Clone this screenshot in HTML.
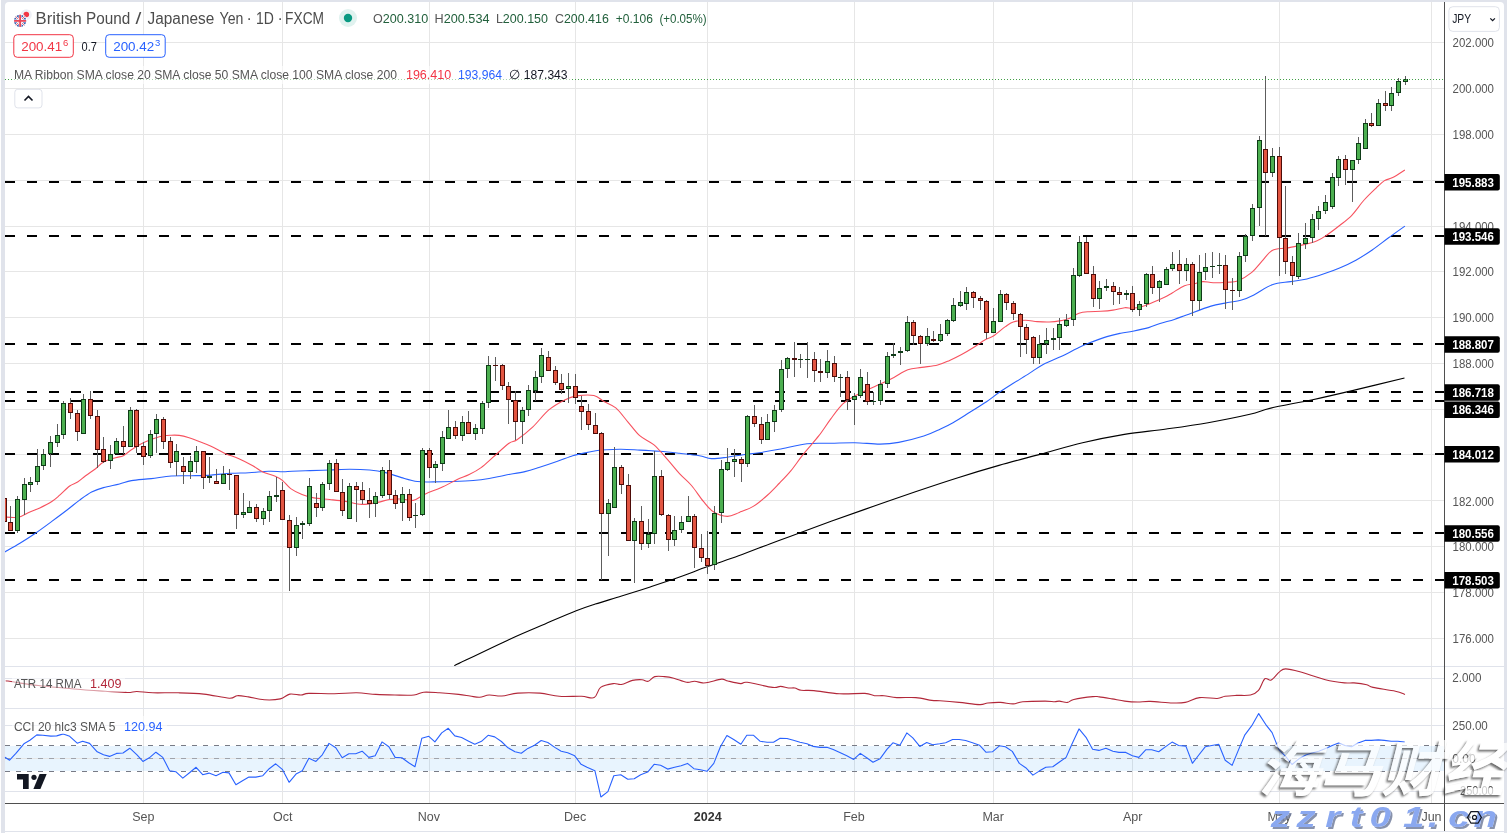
<!DOCTYPE html>
<html><head><meta charset="utf-8"><title>GBP/JPY Chart</title>
<style>html,body{margin:0;padding:0;background:#fff;width:1507px;height:833px;overflow:hidden}svg{display:block}</style>
</head><body>
<svg width="1507" height="833" viewBox="0 0 1507 833" shape-rendering="auto"><rect x="0" y="0" width="1507" height="833" fill="#ffffff"/>
<rect x="1" y="0" width="4" height="833" fill="#e0e3eb"/>
<rect x="1" y="0" width="1506" height="2" fill="#e0e3eb"/>
<rect x="1504" y="0" width="3" height="833" fill="#e0e3eb"/>
<rect x="5" y="831" width="1499" height="1" fill="#e0e3eb"/>
<path d="M5,2 h4 a4,4 0 0 0 -4,4 z" fill="#e0e3eb"/>
<path d="M1504,2 h-4 a4,4 0 0 1 4,4 z" fill="#e0e3eb"/>
<rect x="5" y="42" width="1439" height="1" fill="#e6e6e6"/>
<rect x="5" y="88" width="1439" height="1" fill="#e6e6e6"/>
<rect x="5" y="134" width="1439" height="1" fill="#e6e6e6"/>
<rect x="5" y="180" width="1439" height="1" fill="#e6e6e6"/>
<rect x="5" y="226" width="1439" height="1" fill="#e6e6e6"/>
<rect x="5" y="271" width="1439" height="1" fill="#e6e6e6"/>
<rect x="5" y="317" width="1439" height="1" fill="#e6e6e6"/>
<rect x="5" y="363" width="1439" height="1" fill="#e6e6e6"/>
<rect x="5" y="409" width="1439" height="1" fill="#e6e6e6"/>
<rect x="5" y="454" width="1439" height="1" fill="#e6e6e6"/>
<rect x="5" y="500" width="1439" height="1" fill="#e6e6e6"/>
<rect x="5" y="546" width="1439" height="1" fill="#e6e6e6"/>
<rect x="5" y="592" width="1439" height="1" fill="#e6e6e6"/>
<rect x="5" y="638" width="1439" height="1" fill="#e6e6e6"/>
<rect x="5" y="678" width="1439" height="1" fill="#e0e3eb"/>
<rect x="5" y="725" width="1439" height="1" fill="#e0e3eb"/>
<rect x="5" y="791" width="1439" height="1" fill="#e0e3eb"/>
<rect x="143" y="2" width="1" height="801" fill="#e6e6e6"/>
<rect x="282" y="2" width="1" height="801" fill="#e6e6e6"/>
<rect x="429" y="2" width="1" height="801" fill="#e6e6e6"/>
<rect x="575" y="2" width="1" height="801" fill="#e6e6e6"/>
<rect x="707" y="2" width="1" height="801" fill="#e6e6e6"/>
<rect x="854" y="2" width="1" height="801" fill="#e6e6e6"/>
<rect x="993" y="2" width="1" height="801" fill="#e6e6e6"/>
<rect x="1132" y="2" width="1" height="801" fill="#e6e6e6"/>
<rect x="1279" y="2" width="1" height="801" fill="#e6e6e6"/>
<rect x="1431" y="2" width="1" height="801" fill="#e6e6e6"/>
<rect x="5" y="666" width="1499" height="1" fill="#e0e3eb"/>
<rect x="5" y="708" width="1499" height="1" fill="#e0e3eb"/>
<rect x="5" y="746" width="1439" height="25" fill="#2196f3" fill-opacity="0.1"/>
<rect x="5" y="758" width="1439" height="1" fill="#e6e6e6"/>
<line x1="5" y1="745.5" x2="1444" y2="745.5" stroke="#787b86" stroke-width="1" stroke-dasharray="5 6"/>
<line x1="5" y1="758.5" x2="1444" y2="758.5" stroke="#a0a3ab" stroke-width="1" stroke-dasharray="5 6"/>
<line x1="5" y1="771.5" x2="1444" y2="771.5" stroke="#787b86" stroke-width="1" stroke-dasharray="5 6"/>
<line x1="5" y1="182" x2="1444" y2="182" stroke="#000" stroke-width="2" stroke-dasharray="10 12"/>
<line x1="5" y1="236" x2="1444" y2="236" stroke="#000" stroke-width="2" stroke-dasharray="10 12"/>
<line x1="5" y1="344" x2="1444" y2="344" stroke="#000" stroke-width="2" stroke-dasharray="10 12"/>
<line x1="5" y1="392" x2="1444" y2="392" stroke="#000" stroke-width="2" stroke-dasharray="10 12"/>
<line x1="5" y1="401" x2="1444" y2="401" stroke="#000" stroke-width="2" stroke-dasharray="10 12"/>
<line x1="5" y1="454" x2="1444" y2="454" stroke="#000" stroke-width="2" stroke-dasharray="10 12"/>
<line x1="5" y1="533" x2="1444" y2="533" stroke="#000" stroke-width="2" stroke-dasharray="10 12"/>
<line x1="5" y1="580" x2="1444" y2="580" stroke="#000" stroke-width="2" stroke-dasharray="10 12"/>
<clipPath id="cm"><rect x="5" y="2" width="1439" height="664"/></clipPath>
<g clip-path="url(#cm)" fill="none" stroke-linejoin="round">
<path d="M454.3,665.7 C463.47,661.32 494.17,646.37 509.3,639.4 C524.43,632.43 533.95,628.67 545.1,623.9 C556.25,619.13 567.83,614.1 576.2,610.8 C584.57,607.5 587.73,606.57 595.3,604.1 C602.87,601.63 612.45,598.87 621.6,596 C630.75,593.13 640.65,590.02 650.2,586.9 C659.75,583.78 669.33,580.68 678.9,577.3 C688.47,573.92 697.65,570.18 707.6,566.6 C717.55,563.02 728.25,559.58 738.6,555.8 C748.95,552.02 761.13,547.13 769.7,543.9 C778.27,540.67 779.65,540.22 790,536.4 C800.35,532.58 817.87,526.02 831.8,521 C845.73,515.98 859.67,511.18 873.6,506.3 C887.53,501.42 901.47,496.43 915.4,491.7 C929.33,486.97 943.27,482.28 957.2,477.9 C971.13,473.52 985.07,469.37 999,465.4 C1012.93,461.43 1026.87,457.87 1040.8,454.1 C1054.73,450.33 1068.67,446.08 1082.6,442.8 C1096.53,439.52 1110.45,436.7 1124.4,434.4 C1138.35,432.1 1152.35,430.95 1166.3,429 C1180.25,427.05 1194.17,425.15 1208.1,422.7 C1222.03,420.25 1239.45,416.73 1249.9,414.3 C1260.35,411.87 1260.35,410.53 1270.8,408.1 C1281.25,405.67 1298.67,402.7 1312.6,399.7 C1326.53,396.7 1339.08,393.72 1354.4,390.1 C1369.72,386.48 1396.15,380.02 1404.5,378" stroke="#000000" stroke-width="1.1"/>
<path d="M5,551.9 C7.48,550.47 14.77,546.45 19.9,543.3 C25.03,540.15 30.48,536.65 35.8,533 C41.12,529.35 46.48,525.32 51.8,521.4 C57.12,517.48 63.07,513.05 67.7,509.5 C72.33,505.95 75.62,503.02 79.6,500.1 C83.58,497.18 87.62,494.08 91.6,492 C95.58,489.92 98.85,488.93 103.5,487.6 C108.15,486.27 114.85,485.17 119.5,484 C124.15,482.83 126.1,481.5 131.4,480.6 C136.7,479.7 144.67,479.37 151.3,478.6 C157.93,477.83 164.57,476.48 171.2,476 C177.83,475.52 184.47,475.85 191.1,475.7 C197.73,475.55 204.37,475.5 211,475.1 C217.63,474.7 224.58,473.7 230.9,473.3 C237.22,472.9 242.58,473.03 248.9,472.7 C255.22,472.37 263.17,471.47 268.8,471.3 C274.43,471.13 278.83,471.7 282.7,471.7 C286.57,471.7 287.47,471.48 292,471.3 C296.53,471.12 303.6,470.82 309.9,470.6 C316.2,470.38 323.17,470.23 329.8,470 C336.43,469.77 343.07,469.2 349.7,469.2 C356.33,469.2 363.62,469.43 369.6,470 C375.58,470.57 380.28,471.33 385.6,472.6 C390.92,473.87 396.2,476.12 401.5,477.6 C406.8,479.08 412.1,480.78 417.4,481.5 C422.7,482.22 427.33,481.9 433.3,481.9 C439.27,481.9 446.55,481.73 453.2,481.5 C459.85,481.27 467.22,481 473.2,480.5 C479.18,480 483.8,479.38 489.1,478.5 C494.4,477.62 499.03,476.35 505,475.2 C510.97,474.05 519.25,472.87 524.9,471.6 C530.55,470.33 533.58,469.27 538.9,467.6 C544.22,465.93 551.17,463.58 556.8,461.6 C562.43,459.62 568.83,456.95 572.7,455.7 C576.57,454.45 576.13,454.93 580,454.1 C583.87,453.27 589.27,451.5 595.9,450.7 C602.53,449.9 612.5,449.4 619.8,449.3 C627.1,449.2 633.07,449.77 639.7,450.1 C646.33,450.43 652.97,450.77 659.6,451.3 C666.23,451.83 672.87,452.57 679.5,453.3 C686.13,454.03 694.08,454.82 699.4,455.7 C704.72,456.58 706.75,458.35 711.4,458.6 C716.05,458.85 721.98,457.85 727.3,457.2 C732.62,456.55 737.98,455.45 743.3,454.7 C748.62,453.95 753.23,453.6 759.2,452.7 C765.17,451.8 771.13,450.8 779.1,449.3 C787.07,447.8 798.38,444.7 807,443.7 C815.62,442.7 822.85,443.47 830.8,443.3 C838.75,443.13 846.5,442.57 854.7,442.7 C862.9,442.83 872.67,444.15 880,444.1 C887.33,444.05 891.4,443.73 898.7,442.4 C906,441.07 916.83,438.33 923.8,436.1 C930.77,433.87 935.63,431.23 940.5,429 C945.37,426.77 948.12,425.48 953,422.7 C957.88,419.92 964.22,415.78 969.8,412.3 C975.38,408.82 981.57,405.13 986.5,401.8 C991.43,398.47 994.93,395.38 999.4,392.3 C1003.87,389.22 1008.32,386.45 1013.3,383.3 C1018.28,380.15 1024.32,376.55 1029.3,373.4 C1034.28,370.25 1037.9,367.22 1043.2,364.4 C1048.5,361.58 1055.47,359.15 1061.1,356.5 C1066.73,353.85 1072.35,350.73 1077,348.5 C1081.65,346.27 1084.02,345.08 1089,343.1 C1093.98,341.12 1101.6,338.25 1106.9,336.6 C1112.2,334.95 1116.48,334.1 1120.8,333.2 C1125.12,332.3 1128.15,332.13 1132.8,331.2 C1137.45,330.27 1144.17,328.88 1148.7,327.6 C1153.23,326.32 1155.73,324.87 1160,323.5 C1164.27,322.13 1169.88,320.83 1174.3,319.4 C1178.72,317.97 1180.38,317.12 1186.5,314.9 C1192.62,312.68 1204.53,308.07 1211,306.1 C1217.47,304.13 1220.2,304.12 1225.3,303.1 C1230.4,302.08 1236.83,301.37 1241.6,300 C1246.37,298.63 1248.8,297.45 1253.9,294.9 C1259,292.35 1266.08,286.92 1272.2,284.7 C1278.32,282.48 1284.82,282.55 1290.6,281.6 C1296.38,280.65 1301.45,280.25 1306.9,279 C1312.35,277.75 1317.85,275.93 1323.3,274.1 C1328.75,272.27 1334.17,270.32 1339.6,268 C1345.03,265.68 1350.47,263.2 1355.9,260.2 C1361.33,257.2 1366.75,253.73 1372.2,250 C1377.65,246.27 1383.15,241.78 1388.6,237.8 C1394.05,233.82 1402.18,228.05 1404.9,226.1" stroke="#2962ff" stroke-width="1.1"/>
<path d="M5,517 C6.48,517.08 11.25,517.58 13.9,517.5 C16.55,517.42 18.23,517.43 20.9,516.5 C23.57,515.57 26.75,513.33 29.9,511.9 C33.05,510.47 36.15,509.63 39.8,507.9 C43.45,506.17 48.48,503.62 51.8,501.5 C55.12,499.38 56.72,497.78 59.7,495.2 C62.68,492.62 66.72,488.2 69.7,486 C72.68,483.8 74.95,483.72 77.6,482 C80.25,480.28 82.6,477.92 85.6,475.7 C88.6,473.48 92.62,470.97 95.6,468.7 C98.58,466.43 100.18,463.93 103.5,462.1 C106.82,460.27 112.18,458.77 115.5,457.7 C118.82,456.63 120.75,457.02 123.4,455.7 C126.05,454.38 128.08,451.95 131.4,449.8 C134.72,447.65 138.65,444.97 143.3,442.8 C147.95,440.63 154.65,438.07 159.3,436.8 C163.95,435.53 167.88,435.43 171.2,435.2 C174.52,434.97 176.22,434.97 179.2,435.4 C182.18,435.83 185.78,436.8 189.1,437.8 C192.42,438.8 195.45,440 199.1,441.4 C202.75,442.8 206.68,444.2 211,446.2 C215.32,448.2 220.35,451.32 225,453.4 C229.65,455.48 234.27,456.65 238.9,458.7 C243.53,460.75 248.82,463.47 252.8,465.7 C256.78,467.93 259.15,470.38 262.8,472.1 C266.45,473.82 271.38,474.58 274.7,476 C278.02,477.42 280.03,478.5 282.7,480.6 C285.37,482.7 287.48,486.28 290.7,488.6 C293.92,490.92 298.13,492.95 302,494.5 C305.87,496.05 309.27,497.07 313.9,497.9 C318.53,498.73 324.5,498.92 329.8,499.5 C335.1,500.08 340.38,500.58 345.7,501.4 C351.02,502.22 356.38,504.23 361.7,504.4 C367.02,504.57 372.97,503.22 377.6,502.4 C382.23,501.58 385.52,500.07 389.5,499.5 C393.48,498.93 397.52,498.85 401.5,499 C405.48,499.15 409.42,501.25 413.4,500.4 C417.38,499.55 420.75,496.05 425.4,493.9 C430.05,491.75 436,489.9 441.3,487.5 C446.6,485.1 452.55,481.65 457.2,479.5 C461.85,477.35 465.22,476.58 469.2,474.6 C473.18,472.62 477.12,470.5 481.1,467.6 C485.08,464.7 488.45,461.25 493.1,457.2 C497.75,453.15 505.02,446.22 509,443.3 C512.98,440.38 513.02,442.45 517,439.7 C520.98,436.95 527.6,431.77 532.9,426.8 C538.2,421.83 543.5,414.38 548.8,409.9 C554.1,405.42 560.05,402.23 564.7,399.9 C569.35,397.57 571.83,396.63 576.7,395.9 C581.57,395.17 589.37,394.57 593.9,395.5 C598.43,396.43 600.25,399.43 603.9,401.5 C607.55,403.57 611.82,404.52 615.8,407.9 C619.78,411.28 623.82,417.17 627.8,421.8 C631.78,426.43 635.38,431.88 639.7,435.7 C644.02,439.52 649.05,440.72 653.7,444.7 C658.35,448.68 663.3,454.78 667.6,459.6 C671.9,464.42 675.52,469.28 679.5,473.6 C683.48,477.92 687.52,480.87 691.5,485.5 C695.48,490.13 699.75,497.02 703.4,501.4 C707.05,505.78 709.42,509.3 713.4,511.8 C717.38,514.3 722.98,516.3 727.3,516.4 C731.62,516.5 734.98,514.07 739.3,512.4 C743.62,510.73 748.57,509.22 753.2,506.4 C757.83,503.58 762.78,499.32 767.1,495.5 C771.42,491.68 775.12,487.65 779.1,483.5 C783.08,479.35 787.02,475.4 791,470.6 C794.98,465.8 798.35,460.52 803,454.7 C807.65,448.88 814.27,441.68 818.9,435.7 C823.53,429.72 826.82,424.1 830.8,418.8 C834.78,413.5 838.82,407.72 842.8,403.9 C846.78,400.08 850.72,398.22 854.7,395.9 C858.68,393.58 862.17,392.1 866.7,390 C871.23,387.9 877.37,385.4 881.9,383.3 C886.43,381.2 889.58,379.65 893.9,377.4 C898.22,375.15 903.15,371.47 907.8,369.8 C912.45,368.13 916.82,368.2 921.8,367.4 C926.78,366.6 933.07,366.17 937.7,365 C942.33,363.83 945.62,362.15 949.6,360.4 C953.58,358.65 957.62,356.65 961.6,354.5 C965.58,352.35 969.52,350 973.5,347.5 C977.48,345 982.18,341.42 985.5,339.5 C988.82,337.58 990.08,338.15 993.4,336 C996.72,333.85 1002.08,328.93 1005.4,326.6 C1008.72,324.27 1009.98,323.07 1013.3,322 C1016.62,320.93 1021.32,320.27 1025.3,320.2 C1029.28,320.13 1033.22,321.3 1037.2,321.6 C1041.18,321.9 1045.22,322.17 1049.2,322 C1053.18,321.83 1057.78,321.17 1061.1,320.6 C1064.42,320.03 1066.12,319.82 1069.1,318.6 C1072.08,317.38 1075.68,314.45 1079,313.3 C1082.32,312.15 1085.35,312.03 1089,311.7 C1092.65,311.37 1096.92,311.57 1100.9,311.3 C1104.88,311.03 1108.92,310.7 1112.9,310.1 C1116.88,309.5 1121.48,308 1124.8,307.7 C1128.12,307.4 1129.48,308.63 1132.8,308.3 C1136.12,307.97 1140.72,306.97 1144.7,305.7 C1148.68,304.43 1153.32,302.15 1156.7,300.7 C1160.08,299.25 1162.42,298.3 1165,297 C1167.58,295.7 1168.95,294.78 1172.2,292.9 C1175.45,291.02 1180.75,287.23 1184.5,285.7 C1188.25,284.17 1191.63,284.38 1194.7,283.7 C1197.77,283.02 1199.83,281.77 1202.9,281.6 C1205.97,281.43 1209.03,282.6 1213.1,282.7 C1217.17,282.8 1223.22,282.48 1227.3,282.2 C1231.38,281.92 1233.52,282.63 1237.6,281 C1241.68,279.37 1247.73,275.7 1251.8,272.4 C1255.87,269.1 1258.6,264.87 1262,261.2 C1265.4,257.53 1268.12,252.6 1272.2,250.4 C1276.28,248.2 1281.38,248.92 1286.5,248 C1291.62,247.08 1297.8,246.1 1302.9,244.9 C1308,243.7 1313.03,242.5 1317.1,240.8 C1321.17,239.1 1323.55,237.25 1327.3,234.7 C1331.05,232.15 1335.52,228.73 1339.6,225.5 C1343.68,222.27 1347.72,219.55 1351.8,215.3 C1355.88,211.05 1360.02,204.58 1364.1,200 C1368.18,195.42 1372.9,191.03 1376.3,187.8 C1379.7,184.57 1381.77,182.3 1384.5,180.6 C1387.23,178.9 1389.3,179.37 1392.7,177.6 C1396.1,175.83 1402.87,171.27 1404.9,170" stroke="#f7525f" stroke-width="1.1"/>
</g>
<g clip-path="url(#cm)">
<rect x="4" y="490" width="1" height="35" fill="#5d5d5d"/>
<rect x="2" y="498" width="5" height="24" fill="#4d0b08"/>
<rect x="3" y="499" width="3" height="22" fill="#e25541"/>
<rect x="10" y="506" width="1" height="25" fill="#5d5d5d"/>
<rect x="8" y="522" width="5" height="9" fill="#4d0b08"/>
<rect x="9" y="523" width="3" height="7" fill="#e25541"/>
<rect x="17" y="496" width="1" height="37" fill="#5d5d5d"/>
<rect x="15" y="499" width="5" height="32" fill="#0e3b17"/>
<rect x="16" y="500" width="3" height="30" fill="#4caf50"/>
<rect x="24" y="478" width="1" height="37" fill="#5d5d5d"/>
<rect x="22" y="484" width="5" height="16" fill="#0e3b17"/>
<rect x="23" y="485" width="3" height="14" fill="#4caf50"/>
<rect x="30" y="477" width="1" height="15" fill="#5d5d5d"/>
<rect x="28" y="482" width="5" height="3" fill="#0e3b17"/>
<rect x="29" y="483" width="3" height="1" fill="#4caf50"/>
<rect x="37" y="449" width="1" height="36" fill="#5d5d5d"/>
<rect x="35" y="466" width="5" height="16" fill="#0e3b17"/>
<rect x="36" y="467" width="3" height="14" fill="#4caf50"/>
<rect x="43" y="449" width="1" height="21" fill="#5d5d5d"/>
<rect x="41" y="454" width="5" height="12" fill="#0e3b17"/>
<rect x="42" y="455" width="3" height="10" fill="#4caf50"/>
<rect x="50" y="436" width="1" height="31" fill="#5d5d5d"/>
<rect x="48" y="442" width="5" height="12" fill="#0e3b17"/>
<rect x="49" y="443" width="3" height="10" fill="#4caf50"/>
<rect x="57" y="424" width="1" height="23" fill="#5d5d5d"/>
<rect x="55" y="435" width="5" height="8" fill="#0e3b17"/>
<rect x="56" y="436" width="3" height="6" fill="#4caf50"/>
<rect x="63" y="401" width="1" height="38" fill="#5d5d5d"/>
<rect x="61" y="403" width="5" height="32" fill="#0e3b17"/>
<rect x="62" y="404" width="3" height="30" fill="#4caf50"/>
<rect x="70" y="398" width="1" height="21" fill="#5d5d5d"/>
<rect x="68" y="403" width="5" height="10" fill="#4d0b08"/>
<rect x="69" y="404" width="3" height="8" fill="#e25541"/>
<rect x="77" y="410" width="1" height="31" fill="#5d5d5d"/>
<rect x="75" y="413" width="5" height="19" fill="#4d0b08"/>
<rect x="76" y="414" width="3" height="17" fill="#e25541"/>
<rect x="83" y="394" width="1" height="40" fill="#5d5d5d"/>
<rect x="81" y="399" width="5" height="35" fill="#0e3b17"/>
<rect x="82" y="400" width="3" height="33" fill="#4caf50"/>
<rect x="90" y="391" width="1" height="28" fill="#5d5d5d"/>
<rect x="88" y="399" width="5" height="17" fill="#4d0b08"/>
<rect x="89" y="400" width="3" height="15" fill="#e25541"/>
<rect x="97" y="410" width="1" height="58" fill="#5d5d5d"/>
<rect x="95" y="416" width="5" height="34" fill="#4d0b08"/>
<rect x="96" y="417" width="3" height="32" fill="#e25541"/>
<rect x="103" y="437" width="1" height="26" fill="#5d5d5d"/>
<rect x="101" y="449" width="5" height="13" fill="#4d0b08"/>
<rect x="102" y="450" width="3" height="11" fill="#e25541"/>
<rect x="110" y="445" width="1" height="24" fill="#5d5d5d"/>
<rect x="108" y="454" width="5" height="7" fill="#0e3b17"/>
<rect x="109" y="455" width="3" height="5" fill="#4caf50"/>
<rect x="116" y="438" width="1" height="16" fill="#5d5d5d"/>
<rect x="114" y="441" width="5" height="13" fill="#0e3b17"/>
<rect x="115" y="442" width="3" height="11" fill="#4caf50"/>
<rect x="123" y="426" width="1" height="28" fill="#5d5d5d"/>
<rect x="121" y="441" width="5" height="6" fill="#4d0b08"/>
<rect x="122" y="442" width="3" height="4" fill="#e25541"/>
<rect x="130" y="407" width="1" height="40" fill="#5d5d5d"/>
<rect x="128" y="410" width="5" height="37" fill="#0e3b17"/>
<rect x="129" y="411" width="3" height="35" fill="#4caf50"/>
<rect x="136" y="409" width="1" height="44" fill="#5d5d5d"/>
<rect x="134" y="410" width="5" height="37" fill="#4d0b08"/>
<rect x="135" y="411" width="3" height="35" fill="#e25541"/>
<rect x="143" y="442" width="1" height="23" fill="#5d5d5d"/>
<rect x="141" y="446" width="5" height="11" fill="#4d0b08"/>
<rect x="142" y="447" width="3" height="9" fill="#e25541"/>
<rect x="150" y="430" width="1" height="28" fill="#5d5d5d"/>
<rect x="148" y="434" width="5" height="22" fill="#0e3b17"/>
<rect x="149" y="435" width="3" height="20" fill="#4caf50"/>
<rect x="156" y="414" width="1" height="39" fill="#5d5d5d"/>
<rect x="154" y="419" width="5" height="15" fill="#0e3b17"/>
<rect x="155" y="420" width="3" height="13" fill="#4caf50"/>
<rect x="163" y="417" width="1" height="32" fill="#5d5d5d"/>
<rect x="161" y="419" width="5" height="23" fill="#4d0b08"/>
<rect x="162" y="420" width="3" height="21" fill="#e25541"/>
<rect x="170" y="437" width="1" height="31" fill="#5d5d5d"/>
<rect x="168" y="441" width="5" height="22" fill="#4d0b08"/>
<rect x="169" y="442" width="3" height="20" fill="#e25541"/>
<rect x="176" y="444" width="1" height="32" fill="#5d5d5d"/>
<rect x="174" y="451" width="5" height="11" fill="#0e3b17"/>
<rect x="175" y="452" width="3" height="9" fill="#4caf50"/>
<rect x="183" y="457" width="1" height="27" fill="#5d5d5d"/>
<rect x="181" y="466" width="5" height="6" fill="#4d0b08"/>
<rect x="182" y="467" width="3" height="4" fill="#e25541"/>
<rect x="190" y="456" width="1" height="23" fill="#5d5d5d"/>
<rect x="188" y="461" width="5" height="11" fill="#0e3b17"/>
<rect x="189" y="462" width="3" height="9" fill="#4caf50"/>
<rect x="196" y="446" width="1" height="27" fill="#5d5d5d"/>
<rect x="194" y="451" width="5" height="11" fill="#0e3b17"/>
<rect x="195" y="452" width="3" height="9" fill="#4caf50"/>
<rect x="203" y="451" width="1" height="38" fill="#5d5d5d"/>
<rect x="201" y="451" width="5" height="27" fill="#4d0b08"/>
<rect x="202" y="452" width="3" height="25" fill="#e25541"/>
<rect x="209" y="457" width="1" height="26" fill="#5d5d5d"/>
<rect x="207" y="476" width="5" height="2" fill="#0e3b17"/>
<rect x="216" y="469" width="1" height="15" fill="#5d5d5d"/>
<rect x="214" y="481" width="5" height="3" fill="#4d0b08"/>
<rect x="215" y="482" width="3" height="1" fill="#e25541"/>
<rect x="223" y="466" width="1" height="18" fill="#5d5d5d"/>
<rect x="221" y="474" width="5" height="10" fill="#0e3b17"/>
<rect x="222" y="475" width="3" height="8" fill="#4caf50"/>
<rect x="229" y="469" width="1" height="21" fill="#5d5d5d"/>
<rect x="227" y="474" width="5" height="1" fill="#4d0b08"/>
<rect x="236" y="475" width="1" height="54" fill="#5d5d5d"/>
<rect x="234" y="475" width="5" height="40" fill="#4d0b08"/>
<rect x="235" y="476" width="3" height="38" fill="#e25541"/>
<rect x="243" y="493" width="1" height="25" fill="#5d5d5d"/>
<rect x="241" y="512" width="5" height="3" fill="#0e3b17"/>
<rect x="242" y="513" width="3" height="1" fill="#4caf50"/>
<rect x="249" y="501" width="1" height="12" fill="#5d5d5d"/>
<rect x="247" y="507" width="5" height="6" fill="#0e3b17"/>
<rect x="248" y="508" width="3" height="4" fill="#4caf50"/>
<rect x="256" y="504" width="1" height="18" fill="#5d5d5d"/>
<rect x="254" y="507" width="5" height="12" fill="#4d0b08"/>
<rect x="255" y="508" width="3" height="10" fill="#e25541"/>
<rect x="263" y="508" width="1" height="17" fill="#5d5d5d"/>
<rect x="261" y="511" width="5" height="8" fill="#0e3b17"/>
<rect x="262" y="512" width="3" height="6" fill="#4caf50"/>
<rect x="269" y="491" width="1" height="31" fill="#5d5d5d"/>
<rect x="267" y="496" width="5" height="15" fill="#0e3b17"/>
<rect x="268" y="497" width="3" height="13" fill="#4caf50"/>
<rect x="276" y="477" width="1" height="25" fill="#5d5d5d"/>
<rect x="274" y="495" width="5" height="2" fill="#0e3b17"/>
<rect x="282" y="482" width="1" height="38" fill="#5d5d5d"/>
<rect x="280" y="490" width="5" height="30" fill="#4d0b08"/>
<rect x="281" y="491" width="3" height="28" fill="#e25541"/>
<rect x="289" y="515" width="1" height="76" fill="#5d5d5d"/>
<rect x="287" y="520" width="5" height="28" fill="#4d0b08"/>
<rect x="288" y="521" width="3" height="26" fill="#e25541"/>
<rect x="296" y="517" width="1" height="39" fill="#5d5d5d"/>
<rect x="294" y="525" width="5" height="23" fill="#0e3b17"/>
<rect x="295" y="526" width="3" height="21" fill="#4caf50"/>
<rect x="302" y="521" width="1" height="18" fill="#5d5d5d"/>
<rect x="300" y="523" width="5" height="2" fill="#0e3b17"/>
<rect x="309" y="478" width="1" height="48" fill="#5d5d5d"/>
<rect x="307" y="486" width="5" height="38" fill="#0e3b17"/>
<rect x="308" y="487" width="3" height="36" fill="#4caf50"/>
<rect x="316" y="493" width="1" height="24" fill="#5d5d5d"/>
<rect x="314" y="503" width="5" height="5" fill="#4d0b08"/>
<rect x="315" y="504" width="3" height="3" fill="#e25541"/>
<rect x="322" y="482" width="1" height="29" fill="#5d5d5d"/>
<rect x="320" y="484" width="5" height="24" fill="#0e3b17"/>
<rect x="321" y="485" width="3" height="22" fill="#4caf50"/>
<rect x="329" y="460" width="1" height="30" fill="#5d5d5d"/>
<rect x="327" y="463" width="5" height="21" fill="#0e3b17"/>
<rect x="328" y="464" width="3" height="19" fill="#4caf50"/>
<rect x="336" y="459" width="1" height="33" fill="#5d5d5d"/>
<rect x="334" y="463" width="5" height="29" fill="#4d0b08"/>
<rect x="335" y="464" width="3" height="27" fill="#e25541"/>
<rect x="342" y="479" width="1" height="37" fill="#5d5d5d"/>
<rect x="340" y="492" width="5" height="19" fill="#4d0b08"/>
<rect x="341" y="493" width="3" height="17" fill="#e25541"/>
<rect x="349" y="483" width="1" height="36" fill="#5d5d5d"/>
<rect x="347" y="486" width="5" height="33" fill="#0e3b17"/>
<rect x="348" y="487" width="3" height="31" fill="#4caf50"/>
<rect x="356" y="482" width="1" height="40" fill="#5d5d5d"/>
<rect x="354" y="486" width="5" height="4" fill="#4d0b08"/>
<rect x="355" y="487" width="3" height="2" fill="#e25541"/>
<rect x="362" y="482" width="1" height="22" fill="#5d5d5d"/>
<rect x="360" y="490" width="5" height="10" fill="#4d0b08"/>
<rect x="361" y="491" width="3" height="8" fill="#e25541"/>
<rect x="369" y="488" width="1" height="30" fill="#5d5d5d"/>
<rect x="367" y="500" width="5" height="4" fill="#4d0b08"/>
<rect x="368" y="501" width="3" height="2" fill="#e25541"/>
<rect x="375" y="492" width="1" height="25" fill="#5d5d5d"/>
<rect x="373" y="496" width="5" height="8" fill="#0e3b17"/>
<rect x="374" y="497" width="3" height="6" fill="#4caf50"/>
<rect x="382" y="467" width="1" height="31" fill="#5d5d5d"/>
<rect x="380" y="470" width="5" height="26" fill="#0e3b17"/>
<rect x="381" y="471" width="3" height="24" fill="#4caf50"/>
<rect x="389" y="460" width="1" height="39" fill="#5d5d5d"/>
<rect x="387" y="470" width="5" height="25" fill="#4d0b08"/>
<rect x="388" y="471" width="3" height="23" fill="#e25541"/>
<rect x="395" y="490" width="1" height="19" fill="#5d5d5d"/>
<rect x="393" y="495" width="5" height="9" fill="#4d0b08"/>
<rect x="394" y="496" width="3" height="7" fill="#e25541"/>
<rect x="402" y="487" width="1" height="34" fill="#5d5d5d"/>
<rect x="400" y="494" width="5" height="9" fill="#0e3b17"/>
<rect x="401" y="495" width="3" height="7" fill="#4caf50"/>
<rect x="409" y="489" width="1" height="32" fill="#5d5d5d"/>
<rect x="407" y="494" width="5" height="24" fill="#4d0b08"/>
<rect x="408" y="495" width="3" height="22" fill="#e25541"/>
<rect x="415" y="503" width="1" height="25" fill="#5d5d5d"/>
<rect x="413" y="515" width="5" height="1" fill="#0e3b17"/>
<rect x="422" y="448" width="1" height="68" fill="#5d5d5d"/>
<rect x="420" y="450" width="5" height="65" fill="#0e3b17"/>
<rect x="421" y="451" width="3" height="63" fill="#4caf50"/>
<rect x="429" y="448" width="1" height="30" fill="#5d5d5d"/>
<rect x="427" y="450" width="5" height="18" fill="#4d0b08"/>
<rect x="428" y="451" width="3" height="16" fill="#e25541"/>
<rect x="435" y="461" width="1" height="22" fill="#5d5d5d"/>
<rect x="433" y="464" width="5" height="4" fill="#0e3b17"/>
<rect x="434" y="465" width="3" height="2" fill="#4caf50"/>
<rect x="442" y="431" width="1" height="40" fill="#5d5d5d"/>
<rect x="440" y="437" width="5" height="27" fill="#0e3b17"/>
<rect x="441" y="438" width="3" height="25" fill="#4caf50"/>
<rect x="448" y="410" width="1" height="29" fill="#5d5d5d"/>
<rect x="446" y="427" width="5" height="12" fill="#0e3b17"/>
<rect x="447" y="428" width="3" height="10" fill="#4caf50"/>
<rect x="455" y="421" width="1" height="18" fill="#5d5d5d"/>
<rect x="453" y="427" width="5" height="9" fill="#4d0b08"/>
<rect x="454" y="428" width="3" height="7" fill="#e25541"/>
<rect x="462" y="416" width="1" height="25" fill="#5d5d5d"/>
<rect x="460" y="422" width="5" height="14" fill="#0e3b17"/>
<rect x="461" y="423" width="3" height="12" fill="#4caf50"/>
<rect x="468" y="411" width="1" height="23" fill="#5d5d5d"/>
<rect x="466" y="422" width="5" height="12" fill="#4d0b08"/>
<rect x="467" y="423" width="3" height="10" fill="#e25541"/>
<rect x="475" y="424" width="1" height="16" fill="#5d5d5d"/>
<rect x="473" y="428" width="5" height="6" fill="#0e3b17"/>
<rect x="474" y="429" width="3" height="4" fill="#4caf50"/>
<rect x="482" y="401" width="1" height="33" fill="#5d5d5d"/>
<rect x="480" y="403" width="5" height="26" fill="#0e3b17"/>
<rect x="481" y="404" width="3" height="24" fill="#4caf50"/>
<rect x="488" y="356" width="1" height="52" fill="#5d5d5d"/>
<rect x="486" y="365" width="5" height="38" fill="#0e3b17"/>
<rect x="487" y="366" width="3" height="36" fill="#4caf50"/>
<rect x="495" y="357" width="1" height="24" fill="#5d5d5d"/>
<rect x="493" y="365" width="5" height="1" fill="#4d0b08"/>
<rect x="502" y="364" width="1" height="26" fill="#5d5d5d"/>
<rect x="500" y="365" width="5" height="21" fill="#4d0b08"/>
<rect x="501" y="366" width="3" height="19" fill="#e25541"/>
<rect x="508" y="382" width="1" height="42" fill="#5d5d5d"/>
<rect x="506" y="386" width="5" height="14" fill="#4d0b08"/>
<rect x="507" y="387" width="3" height="12" fill="#e25541"/>
<rect x="515" y="391" width="1" height="49" fill="#5d5d5d"/>
<rect x="513" y="400" width="5" height="22" fill="#4d0b08"/>
<rect x="514" y="401" width="3" height="20" fill="#e25541"/>
<rect x="522" y="407" width="1" height="37" fill="#5d5d5d"/>
<rect x="520" y="410" width="5" height="12" fill="#0e3b17"/>
<rect x="521" y="411" width="3" height="10" fill="#4caf50"/>
<rect x="528" y="385" width="1" height="31" fill="#5d5d5d"/>
<rect x="526" y="390" width="5" height="20" fill="#0e3b17"/>
<rect x="527" y="391" width="3" height="18" fill="#4caf50"/>
<rect x="535" y="371" width="1" height="30" fill="#5d5d5d"/>
<rect x="533" y="377" width="5" height="14" fill="#0e3b17"/>
<rect x="534" y="378" width="3" height="12" fill="#4caf50"/>
<rect x="541" y="348" width="1" height="35" fill="#5d5d5d"/>
<rect x="539" y="355" width="5" height="22" fill="#0e3b17"/>
<rect x="540" y="356" width="3" height="20" fill="#4caf50"/>
<rect x="548" y="351" width="1" height="20" fill="#5d5d5d"/>
<rect x="546" y="357" width="5" height="14" fill="#4d0b08"/>
<rect x="547" y="358" width="3" height="12" fill="#e25541"/>
<rect x="555" y="366" width="1" height="19" fill="#5d5d5d"/>
<rect x="553" y="370" width="5" height="13" fill="#4d0b08"/>
<rect x="554" y="371" width="3" height="11" fill="#e25541"/>
<rect x="561" y="374" width="1" height="20" fill="#5d5d5d"/>
<rect x="559" y="383" width="5" height="7" fill="#4d0b08"/>
<rect x="560" y="384" width="3" height="5" fill="#e25541"/>
<rect x="568" y="373" width="1" height="30" fill="#5d5d5d"/>
<rect x="566" y="386" width="5" height="3" fill="#0e3b17"/>
<rect x="567" y="387" width="3" height="1" fill="#4caf50"/>
<rect x="575" y="374" width="1" height="30" fill="#5d5d5d"/>
<rect x="573" y="386" width="5" height="12" fill="#4d0b08"/>
<rect x="574" y="387" width="3" height="10" fill="#e25541"/>
<rect x="581" y="396" width="1" height="34" fill="#5d5d5d"/>
<rect x="579" y="406" width="5" height="6" fill="#4d0b08"/>
<rect x="580" y="407" width="3" height="4" fill="#e25541"/>
<rect x="588" y="404" width="1" height="26" fill="#5d5d5d"/>
<rect x="586" y="411" width="5" height="14" fill="#4d0b08"/>
<rect x="587" y="412" width="3" height="12" fill="#e25541"/>
<rect x="595" y="413" width="1" height="21" fill="#5d5d5d"/>
<rect x="593" y="425" width="5" height="9" fill="#4d0b08"/>
<rect x="594" y="426" width="3" height="7" fill="#e25541"/>
<rect x="601" y="432" width="1" height="148" fill="#5d5d5d"/>
<rect x="599" y="433" width="5" height="81" fill="#4d0b08"/>
<rect x="600" y="434" width="3" height="79" fill="#e25541"/>
<rect x="608" y="499" width="1" height="57" fill="#5d5d5d"/>
<rect x="606" y="503" width="5" height="11" fill="#0e3b17"/>
<rect x="607" y="504" width="3" height="9" fill="#4caf50"/>
<rect x="614" y="447" width="1" height="61" fill="#5d5d5d"/>
<rect x="612" y="467" width="5" height="41" fill="#0e3b17"/>
<rect x="613" y="468" width="3" height="39" fill="#4caf50"/>
<rect x="621" y="465" width="1" height="29" fill="#5d5d5d"/>
<rect x="619" y="467" width="5" height="18" fill="#4d0b08"/>
<rect x="620" y="468" width="3" height="16" fill="#e25541"/>
<rect x="628" y="474" width="1" height="67" fill="#5d5d5d"/>
<rect x="626" y="485" width="5" height="56" fill="#4d0b08"/>
<rect x="627" y="486" width="3" height="54" fill="#e25541"/>
<rect x="634" y="518" width="1" height="65" fill="#5d5d5d"/>
<rect x="632" y="521" width="5" height="20" fill="#0e3b17"/>
<rect x="633" y="522" width="3" height="18" fill="#4caf50"/>
<rect x="641" y="506" width="1" height="44" fill="#5d5d5d"/>
<rect x="639" y="521" width="5" height="23" fill="#4d0b08"/>
<rect x="640" y="522" width="3" height="21" fill="#e25541"/>
<rect x="648" y="519" width="1" height="29" fill="#5d5d5d"/>
<rect x="646" y="534" width="5" height="10" fill="#0e3b17"/>
<rect x="647" y="535" width="3" height="8" fill="#4caf50"/>
<rect x="654" y="451" width="1" height="93" fill="#5d5d5d"/>
<rect x="652" y="476" width="5" height="58" fill="#0e3b17"/>
<rect x="653" y="477" width="3" height="56" fill="#4caf50"/>
<rect x="661" y="470" width="1" height="46" fill="#5d5d5d"/>
<rect x="659" y="476" width="5" height="39" fill="#4d0b08"/>
<rect x="660" y="477" width="3" height="37" fill="#e25541"/>
<rect x="668" y="514" width="1" height="37" fill="#5d5d5d"/>
<rect x="666" y="515" width="5" height="25" fill="#4d0b08"/>
<rect x="667" y="516" width="3" height="23" fill="#e25541"/>
<rect x="674" y="516" width="1" height="30" fill="#5d5d5d"/>
<rect x="672" y="530" width="5" height="10" fill="#0e3b17"/>
<rect x="673" y="531" width="3" height="8" fill="#4caf50"/>
<rect x="681" y="516" width="1" height="17" fill="#5d5d5d"/>
<rect x="679" y="522" width="5" height="8" fill="#0e3b17"/>
<rect x="680" y="523" width="3" height="6" fill="#4caf50"/>
<rect x="688" y="496" width="1" height="26" fill="#5d5d5d"/>
<rect x="686" y="516" width="5" height="6" fill="#0e3b17"/>
<rect x="687" y="517" width="3" height="4" fill="#4caf50"/>
<rect x="694" y="514" width="1" height="54" fill="#5d5d5d"/>
<rect x="692" y="516" width="5" height="32" fill="#4d0b08"/>
<rect x="693" y="517" width="3" height="30" fill="#e25541"/>
<rect x="701" y="534" width="1" height="28" fill="#5d5d5d"/>
<rect x="699" y="548" width="5" height="10" fill="#4d0b08"/>
<rect x="700" y="549" width="3" height="8" fill="#e25541"/>
<rect x="707" y="531" width="1" height="43" fill="#5d5d5d"/>
<rect x="705" y="558" width="5" height="8" fill="#4d0b08"/>
<rect x="706" y="559" width="3" height="6" fill="#e25541"/>
<rect x="714" y="506" width="1" height="64" fill="#5d5d5d"/>
<rect x="712" y="513" width="5" height="52" fill="#0e3b17"/>
<rect x="713" y="514" width="3" height="50" fill="#4caf50"/>
<rect x="721" y="460" width="1" height="63" fill="#5d5d5d"/>
<rect x="719" y="469" width="5" height="44" fill="#0e3b17"/>
<rect x="720" y="470" width="3" height="42" fill="#4caf50"/>
<rect x="727" y="448" width="1" height="23" fill="#5d5d5d"/>
<rect x="725" y="462" width="5" height="8" fill="#0e3b17"/>
<rect x="726" y="463" width="3" height="6" fill="#4caf50"/>
<rect x="734" y="449" width="1" height="28" fill="#5d5d5d"/>
<rect x="732" y="459" width="5" height="3" fill="#0e3b17"/>
<rect x="733" y="460" width="3" height="1" fill="#4caf50"/>
<rect x="741" y="457" width="1" height="25" fill="#5d5d5d"/>
<rect x="739" y="459" width="5" height="5" fill="#4d0b08"/>
<rect x="740" y="460" width="3" height="3" fill="#e25541"/>
<rect x="747" y="415" width="1" height="52" fill="#5d5d5d"/>
<rect x="745" y="416" width="5" height="48" fill="#0e3b17"/>
<rect x="746" y="417" width="3" height="46" fill="#4caf50"/>
<rect x="754" y="405" width="1" height="22" fill="#5d5d5d"/>
<rect x="752" y="416" width="5" height="8" fill="#4d0b08"/>
<rect x="753" y="417" width="3" height="6" fill="#e25541"/>
<rect x="761" y="417" width="1" height="27" fill="#5d5d5d"/>
<rect x="759" y="424" width="5" height="16" fill="#4d0b08"/>
<rect x="760" y="425" width="3" height="14" fill="#e25541"/>
<rect x="767" y="414" width="1" height="26" fill="#5d5d5d"/>
<rect x="765" y="422" width="5" height="18" fill="#0e3b17"/>
<rect x="766" y="423" width="3" height="16" fill="#4caf50"/>
<rect x="774" y="405" width="1" height="27" fill="#5d5d5d"/>
<rect x="772" y="410" width="5" height="12" fill="#0e3b17"/>
<rect x="773" y="411" width="3" height="10" fill="#4caf50"/>
<rect x="781" y="360" width="1" height="52" fill="#5d5d5d"/>
<rect x="779" y="369" width="5" height="41" fill="#0e3b17"/>
<rect x="780" y="370" width="3" height="39" fill="#4caf50"/>
<rect x="787" y="357" width="1" height="21" fill="#5d5d5d"/>
<rect x="785" y="358" width="5" height="11" fill="#0e3b17"/>
<rect x="786" y="359" width="3" height="9" fill="#4caf50"/>
<rect x="794" y="342" width="1" height="35" fill="#5d5d5d"/>
<rect x="792" y="358" width="5" height="2" fill="#4d0b08"/>
<rect x="800" y="354" width="1" height="14" fill="#5d5d5d"/>
<rect x="798" y="359" width="5" height="1" fill="#0e3b17"/>
<rect x="807" y="342" width="1" height="36" fill="#5d5d5d"/>
<rect x="805" y="359" width="5" height="1" fill="#0e3b17"/>
<rect x="814" y="352" width="1" height="30" fill="#5d5d5d"/>
<rect x="812" y="359" width="5" height="12" fill="#4d0b08"/>
<rect x="813" y="360" width="3" height="10" fill="#e25541"/>
<rect x="820" y="359" width="1" height="23" fill="#5d5d5d"/>
<rect x="818" y="371" width="5" height="2" fill="#4d0b08"/>
<rect x="827" y="350" width="1" height="28" fill="#5d5d5d"/>
<rect x="825" y="361" width="5" height="12" fill="#0e3b17"/>
<rect x="826" y="362" width="3" height="10" fill="#4caf50"/>
<rect x="834" y="356" width="1" height="26" fill="#5d5d5d"/>
<rect x="832" y="363" width="5" height="14" fill="#4d0b08"/>
<rect x="833" y="364" width="3" height="12" fill="#e25541"/>
<rect x="840" y="374" width="1" height="23" fill="#5d5d5d"/>
<rect x="838" y="377" width="5" height="1" fill="#0e3b17"/>
<rect x="847" y="371" width="1" height="39" fill="#5d5d5d"/>
<rect x="845" y="377" width="5" height="23" fill="#4d0b08"/>
<rect x="846" y="378" width="3" height="21" fill="#e25541"/>
<rect x="854" y="393" width="1" height="32" fill="#5d5d5d"/>
<rect x="852" y="396" width="5" height="4" fill="#0e3b17"/>
<rect x="853" y="397" width="3" height="2" fill="#4caf50"/>
<rect x="860" y="369" width="1" height="29" fill="#5d5d5d"/>
<rect x="858" y="377" width="5" height="19" fill="#0e3b17"/>
<rect x="859" y="378" width="3" height="17" fill="#4caf50"/>
<rect x="867" y="372" width="1" height="33" fill="#5d5d5d"/>
<rect x="865" y="384" width="5" height="18" fill="#4d0b08"/>
<rect x="866" y="385" width="3" height="16" fill="#e25541"/>
<rect x="873" y="392" width="1" height="13" fill="#5d5d5d"/>
<rect x="871" y="401" width="5" height="1" fill="#0e3b17"/>
<rect x="880" y="380" width="1" height="25" fill="#5d5d5d"/>
<rect x="878" y="384" width="5" height="17" fill="#0e3b17"/>
<rect x="879" y="385" width="3" height="15" fill="#4caf50"/>
<rect x="887" y="352" width="1" height="36" fill="#5d5d5d"/>
<rect x="885" y="356" width="5" height="28" fill="#0e3b17"/>
<rect x="886" y="357" width="3" height="26" fill="#4caf50"/>
<rect x="893" y="343" width="1" height="15" fill="#5d5d5d"/>
<rect x="891" y="354" width="5" height="2" fill="#0e3b17"/>
<rect x="900" y="347" width="1" height="18" fill="#5d5d5d"/>
<rect x="898" y="351" width="5" height="2" fill="#0e3b17"/>
<rect x="907" y="316" width="1" height="36" fill="#5d5d5d"/>
<rect x="905" y="322" width="5" height="29" fill="#0e3b17"/>
<rect x="906" y="323" width="3" height="27" fill="#4caf50"/>
<rect x="913" y="320" width="1" height="25" fill="#5d5d5d"/>
<rect x="911" y="322" width="5" height="14" fill="#4d0b08"/>
<rect x="912" y="323" width="3" height="12" fill="#e25541"/>
<rect x="920" y="335" width="1" height="29" fill="#5d5d5d"/>
<rect x="918" y="336" width="5" height="8" fill="#4d0b08"/>
<rect x="919" y="337" width="3" height="6" fill="#e25541"/>
<rect x="927" y="328" width="1" height="18" fill="#5d5d5d"/>
<rect x="925" y="336" width="5" height="8" fill="#0e3b17"/>
<rect x="926" y="337" width="3" height="6" fill="#4caf50"/>
<rect x="933" y="331" width="1" height="11" fill="#5d5d5d"/>
<rect x="931" y="339" width="5" height="2" fill="#4d0b08"/>
<rect x="940" y="324" width="1" height="18" fill="#5d5d5d"/>
<rect x="938" y="334" width="5" height="7" fill="#0e3b17"/>
<rect x="939" y="335" width="3" height="5" fill="#4caf50"/>
<rect x="947" y="319" width="1" height="17" fill="#5d5d5d"/>
<rect x="945" y="320" width="5" height="14" fill="#0e3b17"/>
<rect x="946" y="321" width="3" height="12" fill="#4caf50"/>
<rect x="953" y="298" width="1" height="24" fill="#5d5d5d"/>
<rect x="951" y="305" width="5" height="16" fill="#0e3b17"/>
<rect x="952" y="306" width="3" height="14" fill="#4caf50"/>
<rect x="960" y="291" width="1" height="16" fill="#5d5d5d"/>
<rect x="958" y="302" width="5" height="4" fill="#0e3b17"/>
<rect x="959" y="303" width="3" height="2" fill="#4caf50"/>
<rect x="966" y="287" width="1" height="23" fill="#5d5d5d"/>
<rect x="964" y="292" width="5" height="12" fill="#0e3b17"/>
<rect x="965" y="293" width="3" height="10" fill="#4caf50"/>
<rect x="973" y="291" width="1" height="17" fill="#5d5d5d"/>
<rect x="971" y="292" width="5" height="6" fill="#4d0b08"/>
<rect x="972" y="293" width="3" height="4" fill="#e25541"/>
<rect x="980" y="296" width="1" height="14" fill="#5d5d5d"/>
<rect x="978" y="298" width="5" height="3" fill="#4d0b08"/>
<rect x="979" y="299" width="3" height="1" fill="#e25541"/>
<rect x="986" y="300" width="1" height="39" fill="#5d5d5d"/>
<rect x="984" y="301" width="5" height="32" fill="#4d0b08"/>
<rect x="985" y="302" width="3" height="30" fill="#e25541"/>
<rect x="993" y="308" width="1" height="25" fill="#5d5d5d"/>
<rect x="991" y="321" width="5" height="12" fill="#0e3b17"/>
<rect x="992" y="322" width="3" height="10" fill="#4caf50"/>
<rect x="1000" y="290" width="1" height="32" fill="#5d5d5d"/>
<rect x="998" y="294" width="5" height="28" fill="#0e3b17"/>
<rect x="999" y="295" width="3" height="26" fill="#4caf50"/>
<rect x="1006" y="293" width="1" height="17" fill="#5d5d5d"/>
<rect x="1004" y="294" width="5" height="9" fill="#4d0b08"/>
<rect x="1005" y="295" width="3" height="7" fill="#e25541"/>
<rect x="1013" y="301" width="1" height="19" fill="#5d5d5d"/>
<rect x="1011" y="303" width="5" height="11" fill="#4d0b08"/>
<rect x="1012" y="304" width="3" height="9" fill="#e25541"/>
<rect x="1020" y="313" width="1" height="44" fill="#5d5d5d"/>
<rect x="1018" y="314" width="5" height="13" fill="#4d0b08"/>
<rect x="1019" y="315" width="3" height="11" fill="#e25541"/>
<rect x="1026" y="324" width="1" height="30" fill="#5d5d5d"/>
<rect x="1024" y="327" width="5" height="13" fill="#4d0b08"/>
<rect x="1025" y="328" width="3" height="11" fill="#e25541"/>
<rect x="1033" y="336" width="1" height="28" fill="#5d5d5d"/>
<rect x="1031" y="337" width="5" height="21" fill="#4d0b08"/>
<rect x="1032" y="338" width="3" height="19" fill="#e25541"/>
<rect x="1039" y="335" width="1" height="29" fill="#5d5d5d"/>
<rect x="1037" y="344" width="5" height="14" fill="#0e3b17"/>
<rect x="1038" y="345" width="3" height="12" fill="#4caf50"/>
<rect x="1046" y="328" width="1" height="26" fill="#5d5d5d"/>
<rect x="1044" y="340" width="5" height="4" fill="#0e3b17"/>
<rect x="1045" y="341" width="3" height="2" fill="#4caf50"/>
<rect x="1053" y="328" width="1" height="22" fill="#5d5d5d"/>
<rect x="1051" y="338" width="5" height="2" fill="#0e3b17"/>
<rect x="1059" y="318" width="1" height="32" fill="#5d5d5d"/>
<rect x="1057" y="324" width="5" height="14" fill="#0e3b17"/>
<rect x="1058" y="325" width="3" height="12" fill="#4caf50"/>
<rect x="1066" y="314" width="1" height="13" fill="#5d5d5d"/>
<rect x="1064" y="320" width="5" height="6" fill="#0e3b17"/>
<rect x="1065" y="321" width="3" height="4" fill="#4caf50"/>
<rect x="1073" y="268" width="1" height="58" fill="#5d5d5d"/>
<rect x="1071" y="275" width="5" height="45" fill="#0e3b17"/>
<rect x="1072" y="276" width="3" height="43" fill="#4caf50"/>
<rect x="1079" y="236" width="1" height="41" fill="#5d5d5d"/>
<rect x="1077" y="242" width="5" height="34" fill="#0e3b17"/>
<rect x="1078" y="243" width="3" height="32" fill="#4caf50"/>
<rect x="1086" y="237" width="1" height="37" fill="#5d5d5d"/>
<rect x="1084" y="242" width="5" height="32" fill="#4d0b08"/>
<rect x="1085" y="243" width="3" height="30" fill="#e25541"/>
<rect x="1093" y="266" width="1" height="41" fill="#5d5d5d"/>
<rect x="1091" y="274" width="5" height="25" fill="#4d0b08"/>
<rect x="1092" y="275" width="3" height="23" fill="#e25541"/>
<rect x="1099" y="281" width="1" height="28" fill="#5d5d5d"/>
<rect x="1097" y="288" width="5" height="11" fill="#0e3b17"/>
<rect x="1098" y="289" width="3" height="9" fill="#4caf50"/>
<rect x="1106" y="279" width="1" height="12" fill="#5d5d5d"/>
<rect x="1104" y="286" width="5" height="2" fill="#0e3b17"/>
<rect x="1113" y="282" width="1" height="23" fill="#5d5d5d"/>
<rect x="1111" y="286" width="5" height="6" fill="#4d0b08"/>
<rect x="1112" y="287" width="3" height="4" fill="#e25541"/>
<rect x="1119" y="287" width="1" height="17" fill="#5d5d5d"/>
<rect x="1117" y="292" width="5" height="3" fill="#4d0b08"/>
<rect x="1118" y="293" width="3" height="1" fill="#e25541"/>
<rect x="1126" y="290" width="1" height="10" fill="#5d5d5d"/>
<rect x="1124" y="293" width="5" height="2" fill="#0e3b17"/>
<rect x="1132" y="286" width="1" height="26" fill="#5d5d5d"/>
<rect x="1130" y="293" width="5" height="17" fill="#4d0b08"/>
<rect x="1131" y="294" width="3" height="15" fill="#e25541"/>
<rect x="1139" y="301" width="1" height="15" fill="#5d5d5d"/>
<rect x="1137" y="304" width="5" height="6" fill="#0e3b17"/>
<rect x="1138" y="305" width="3" height="4" fill="#4caf50"/>
<rect x="1146" y="273" width="1" height="34" fill="#5d5d5d"/>
<rect x="1144" y="274" width="5" height="30" fill="#0e3b17"/>
<rect x="1145" y="275" width="3" height="28" fill="#4caf50"/>
<rect x="1152" y="266" width="1" height="28" fill="#5d5d5d"/>
<rect x="1150" y="274" width="5" height="14" fill="#4d0b08"/>
<rect x="1151" y="275" width="3" height="12" fill="#e25541"/>
<rect x="1159" y="280" width="1" height="22" fill="#5d5d5d"/>
<rect x="1157" y="281" width="5" height="7" fill="#0e3b17"/>
<rect x="1158" y="282" width="3" height="5" fill="#4caf50"/>
<rect x="1166" y="267" width="1" height="18" fill="#5d5d5d"/>
<rect x="1164" y="269" width="5" height="16" fill="#0e3b17"/>
<rect x="1165" y="270" width="3" height="14" fill="#4caf50"/>
<rect x="1172" y="252" width="1" height="19" fill="#5d5d5d"/>
<rect x="1170" y="264" width="5" height="5" fill="#0e3b17"/>
<rect x="1171" y="265" width="3" height="3" fill="#4caf50"/>
<rect x="1179" y="250" width="1" height="34" fill="#5d5d5d"/>
<rect x="1177" y="264" width="5" height="7" fill="#4d0b08"/>
<rect x="1178" y="265" width="3" height="5" fill="#e25541"/>
<rect x="1186" y="258" width="1" height="23" fill="#5d5d5d"/>
<rect x="1184" y="264" width="5" height="7" fill="#0e3b17"/>
<rect x="1185" y="265" width="3" height="5" fill="#4caf50"/>
<rect x="1192" y="262" width="1" height="54" fill="#5d5d5d"/>
<rect x="1190" y="264" width="5" height="37" fill="#4d0b08"/>
<rect x="1191" y="265" width="3" height="35" fill="#e25541"/>
<rect x="1199" y="255" width="1" height="55" fill="#5d5d5d"/>
<rect x="1197" y="272" width="5" height="29" fill="#0e3b17"/>
<rect x="1198" y="273" width="3" height="27" fill="#4caf50"/>
<rect x="1205" y="253" width="1" height="27" fill="#5d5d5d"/>
<rect x="1203" y="267" width="5" height="5" fill="#0e3b17"/>
<rect x="1204" y="268" width="3" height="3" fill="#4caf50"/>
<rect x="1212" y="252" width="1" height="26" fill="#5d5d5d"/>
<rect x="1210" y="266" width="5" height="1" fill="#0e3b17"/>
<rect x="1219" y="253" width="1" height="21" fill="#5d5d5d"/>
<rect x="1217" y="265" width="5" height="1" fill="#0e3b17"/>
<rect x="1225" y="255" width="1" height="54" fill="#5d5d5d"/>
<rect x="1223" y="265" width="5" height="25" fill="#4d0b08"/>
<rect x="1224" y="266" width="3" height="23" fill="#e25541"/>
<rect x="1232" y="278" width="1" height="32" fill="#5d5d5d"/>
<rect x="1230" y="290" width="5" height="1" fill="#4d0b08"/>
<rect x="1239" y="252" width="1" height="45" fill="#5d5d5d"/>
<rect x="1237" y="256" width="5" height="35" fill="#0e3b17"/>
<rect x="1238" y="257" width="3" height="33" fill="#4caf50"/>
<rect x="1245" y="234" width="1" height="28" fill="#5d5d5d"/>
<rect x="1243" y="236" width="5" height="20" fill="#0e3b17"/>
<rect x="1244" y="237" width="3" height="18" fill="#4caf50"/>
<rect x="1252" y="204" width="1" height="37" fill="#5d5d5d"/>
<rect x="1250" y="208" width="5" height="28" fill="#0e3b17"/>
<rect x="1251" y="209" width="3" height="26" fill="#4caf50"/>
<rect x="1259" y="136" width="1" height="90" fill="#5d5d5d"/>
<rect x="1257" y="140" width="5" height="68" fill="#0e3b17"/>
<rect x="1258" y="141" width="3" height="66" fill="#4caf50"/>
<rect x="1265" y="76" width="1" height="160" fill="#5d5d5d"/>
<rect x="1263" y="149" width="5" height="24" fill="#4d0b08"/>
<rect x="1264" y="150" width="3" height="22" fill="#e25541"/>
<rect x="1272" y="148" width="1" height="29" fill="#5d5d5d"/>
<rect x="1270" y="156" width="5" height="17" fill="#0e3b17"/>
<rect x="1271" y="157" width="3" height="15" fill="#4caf50"/>
<rect x="1279" y="147" width="1" height="129" fill="#5d5d5d"/>
<rect x="1277" y="156" width="5" height="82" fill="#4d0b08"/>
<rect x="1278" y="157" width="3" height="80" fill="#e25541"/>
<rect x="1285" y="186" width="1" height="88" fill="#5d5d5d"/>
<rect x="1283" y="238" width="5" height="24" fill="#4d0b08"/>
<rect x="1284" y="239" width="3" height="22" fill="#e25541"/>
<rect x="1292" y="256" width="1" height="29" fill="#5d5d5d"/>
<rect x="1290" y="262" width="5" height="14" fill="#4d0b08"/>
<rect x="1291" y="263" width="3" height="12" fill="#e25541"/>
<rect x="1298" y="233" width="1" height="46" fill="#5d5d5d"/>
<rect x="1296" y="243" width="5" height="34" fill="#0e3b17"/>
<rect x="1297" y="244" width="3" height="32" fill="#4caf50"/>
<rect x="1305" y="223" width="1" height="26" fill="#5d5d5d"/>
<rect x="1303" y="238" width="5" height="6" fill="#0e3b17"/>
<rect x="1304" y="239" width="3" height="4" fill="#4caf50"/>
<rect x="1312" y="214" width="1" height="29" fill="#5d5d5d"/>
<rect x="1310" y="219" width="5" height="19" fill="#0e3b17"/>
<rect x="1311" y="220" width="3" height="17" fill="#4caf50"/>
<rect x="1318" y="206" width="1" height="24" fill="#5d5d5d"/>
<rect x="1316" y="211" width="5" height="8" fill="#0e3b17"/>
<rect x="1317" y="212" width="3" height="6" fill="#4caf50"/>
<rect x="1325" y="195" width="1" height="19" fill="#5d5d5d"/>
<rect x="1323" y="202" width="5" height="9" fill="#0e3b17"/>
<rect x="1324" y="203" width="3" height="7" fill="#4caf50"/>
<rect x="1332" y="173" width="1" height="36" fill="#5d5d5d"/>
<rect x="1330" y="177" width="5" height="30" fill="#0e3b17"/>
<rect x="1331" y="178" width="3" height="28" fill="#4caf50"/>
<rect x="1338" y="156" width="1" height="30" fill="#5d5d5d"/>
<rect x="1336" y="159" width="5" height="19" fill="#0e3b17"/>
<rect x="1337" y="160" width="3" height="17" fill="#4caf50"/>
<rect x="1345" y="155" width="1" height="30" fill="#5d5d5d"/>
<rect x="1343" y="159" width="5" height="11" fill="#4d0b08"/>
<rect x="1344" y="160" width="3" height="9" fill="#e25541"/>
<rect x="1352" y="160" width="1" height="42" fill="#5d5d5d"/>
<rect x="1350" y="160" width="5" height="10" fill="#0e3b17"/>
<rect x="1351" y="161" width="3" height="8" fill="#4caf50"/>
<rect x="1358" y="137" width="1" height="27" fill="#5d5d5d"/>
<rect x="1356" y="143" width="5" height="17" fill="#0e3b17"/>
<rect x="1357" y="144" width="3" height="15" fill="#4caf50"/>
<rect x="1365" y="119" width="1" height="30" fill="#5d5d5d"/>
<rect x="1363" y="123" width="5" height="26" fill="#0e3b17"/>
<rect x="1364" y="124" width="3" height="24" fill="#4caf50"/>
<rect x="1371" y="113" width="1" height="14" fill="#5d5d5d"/>
<rect x="1369" y="123" width="5" height="3" fill="#4d0b08"/>
<rect x="1370" y="124" width="3" height="1" fill="#e25541"/>
<rect x="1378" y="99" width="1" height="27" fill="#5d5d5d"/>
<rect x="1376" y="103" width="5" height="23" fill="#0e3b17"/>
<rect x="1377" y="104" width="3" height="21" fill="#4caf50"/>
<rect x="1385" y="91" width="1" height="20" fill="#5d5d5d"/>
<rect x="1383" y="103" width="5" height="3" fill="#4d0b08"/>
<rect x="1384" y="104" width="3" height="1" fill="#e25541"/>
<rect x="1391" y="87" width="1" height="24" fill="#5d5d5d"/>
<rect x="1389" y="93" width="5" height="13" fill="#0e3b17"/>
<rect x="1390" y="94" width="3" height="11" fill="#4caf50"/>
<rect x="1398" y="78" width="1" height="18" fill="#5d5d5d"/>
<rect x="1396" y="81" width="5" height="12" fill="#0e3b17"/>
<rect x="1397" y="82" width="3" height="10" fill="#4caf50"/>
<rect x="1405" y="76" width="1" height="9" fill="#5d5d5d"/>
<rect x="1403" y="79" width="5" height="3" fill="#0e3b17"/>
<rect x="1404" y="80" width="3" height="1" fill="#4caf50"/>
</g>
<line x1="5" y1="79.5" x2="1444" y2="79.5" stroke="#43a047" stroke-width="1" stroke-dasharray="1 2"/>
<path d="M5.7,680.7 C7.93,681.07 13.68,682.1 19.1,682.9 C24.52,683.7 30.77,684.65 38.2,685.5 C45.63,686.35 55.2,687.2 63.7,688 C72.2,688.8 82.3,689.77 89.2,690.3 C96.1,690.83 98.73,690.83 105.1,691.2 C111.47,691.57 122.1,692.45 127.4,692.5 C132.7,692.55 132.65,691.45 136.9,691.5 C141.15,691.55 146,692.58 152.9,692.8 C159.8,693.02 169.82,692.58 178.3,692.8 C186.78,693.02 195.3,693.2 203.8,694.1 C212.3,695 223.72,697.93 229.3,698.2 C234.88,698.47 234.12,695.92 237.3,695.7 C240.48,695.48 243.9,696.22 248.4,696.9 C252.9,697.58 258.98,699.47 264.3,699.8 C269.62,700.13 276.05,699.85 280.3,698.9 C284.55,697.95 286.35,694.75 289.8,694.1 C293.25,693.45 297.82,695.12 301,695 C304.18,694.88 303.33,693.6 308.9,693.4 C314.47,693.2 326.43,693.9 334.4,693.8 C342.37,693.7 349.8,692.7 356.7,692.8 C363.6,692.9 369.43,694.03 375.8,694.4 C382.17,694.77 388.53,694.9 394.9,695 C401.27,695.1 409.22,695.47 414,695 C418.78,694.53 419.35,692.57 423.6,692.2 C427.85,691.83 433.67,692.43 439.5,692.8 C445.33,693.17 453.52,693.87 458.6,694.4 C463.68,694.93 466.5,695.52 470,696 C473.5,696.48 476.42,697.47 479.6,697.3 C482.78,697.13 485.4,695.22 489.1,695 C492.8,694.78 497.02,696.32 501.8,696 C506.58,695.68 511.43,693.58 517.8,693.1 C524.17,692.62 533.1,692.57 540,693.1 C546.9,693.63 552.28,695.77 559.2,696.3 C566.12,696.83 575.67,696.08 581.5,696.3 C587.33,696.52 591.02,699.08 594.2,697.6 C597.38,696.12 597.42,689.73 600.6,687.4 C603.78,685.07 609.85,684.08 613.3,683.6 C616.75,683.12 618.12,685.03 621.3,684.5 C624.48,683.97 628.95,681.2 632.4,680.4 C635.85,679.6 639.35,679.55 642,679.7 C644.65,679.85 646.18,681.82 648.3,681.3 C650.42,680.78 652.03,677.38 654.7,676.6 C657.37,675.82 661.12,676.33 664.3,676.6 C667.48,676.87 670.08,677.25 673.8,678.2 C677.52,679.15 683.15,681.78 686.6,682.3 C690.05,682.82 691.85,681.2 694.5,681.3 C697.15,681.4 700.1,682.73 702.5,682.9 C704.9,683.07 705.72,682.93 708.9,682.3 C712.08,681.67 718.42,679.32 721.6,679.1 C724.78,678.88 724.82,680.25 728,681 C731.18,681.75 737.52,683.38 740.7,683.6 C743.88,683.82 741.8,681.67 747.1,682.3 C752.4,682.93 766.93,686.72 772.5,687.4 C778.07,688.08 777.83,686.3 780.5,686.4 C783.17,686.5 786.12,687.73 788.5,688 C790.88,688.27 792.68,687.62 794.8,688 C796.92,688.38 798.02,689.87 801.2,690.3 C804.38,690.73 807.53,690.02 813.9,690.6 C820.27,691.18 830.9,693.33 839.4,693.8 C847.9,694.27 859.05,693.08 864.9,693.4 C870.75,693.72 871.32,695.32 874.5,695.7 C877.68,696.08 880.28,695.38 884,695.7 C887.72,696.02 891.48,697.28 896.8,697.6 C902.12,697.92 910.07,697.13 915.9,697.6 C921.73,698.07 927.78,699.87 931.8,700.4 C935.82,700.93 935.45,700.47 940,700.8 C944.55,701.13 952.47,701.77 959.1,702.4 C965.73,703.03 975.02,704.5 979.8,704.6 C984.58,704.7 984.35,703.37 987.8,703 C991.25,702.63 996.27,702.25 1000.5,702.4 C1004.73,702.55 1009.48,704.02 1013.2,703.9 C1016.92,703.78 1017.48,702.17 1022.8,701.7 C1028.12,701.23 1039.8,701.1 1045.1,701.1 C1050.4,701.1 1052.22,701.7 1054.6,701.7 C1056.98,701.7 1057.27,700.98 1059.4,701.1 C1061.53,701.22 1065,702.67 1067.4,702.4 C1069.8,702.13 1069.55,700.47 1073.8,699.5 C1078.05,698.53 1088.67,697.03 1092.9,696.6 C1097.13,696.17 1096.02,696.52 1099.2,696.9 C1102.38,697.28 1107.75,698.2 1112,698.9 C1116.25,699.6 1120.45,700.58 1124.7,701.1 C1128.95,701.62 1133.25,701.95 1137.5,702 C1141.75,702.05 1144.37,701.23 1150.2,701.4 C1156.03,701.57 1166.67,702.83 1172.5,703 C1178.33,703.17 1180.68,703.3 1185.2,702.4 C1189.72,701.5 1194.28,698.25 1199.6,697.6 C1204.92,696.95 1212.87,698.72 1217.1,698.5 C1221.33,698.28 1221.82,696.82 1225,696.3 C1228.18,695.78 1231.95,695.62 1236.2,695.4 C1240.45,695.18 1246.78,695.85 1250.5,695 C1254.22,694.15 1256.12,693 1258.5,690.3 C1260.88,687.6 1262.68,680.5 1264.8,678.8 C1266.92,677.1 1268.8,681.22 1271.2,680.1 C1273.6,678.98 1276.82,673.97 1279.2,672.1 C1281.58,670.23 1282.05,668.95 1285.5,668.9 C1288.95,668.85 1293.25,670 1299.9,671.8 C1306.55,673.6 1317.97,677.85 1325.4,679.7 C1332.83,681.55 1339.73,682.37 1344.5,682.9 C1349.27,683.43 1350.28,682.58 1354,682.9 C1357.72,683.22 1363.62,684.05 1366.8,684.8 C1369.98,685.55 1368.33,686.33 1373.1,687.4 C1377.87,688.47 1390.08,690.03 1395.4,691.2 C1400.72,692.37 1403.4,693.87 1405,694.4" fill="none" stroke="#b2283a" stroke-width="1.1" stroke-linejoin="round"/>
<polyline points="5,757.2 9.6,760.2 15.9,753.4 23.9,743.8 29.9,740.3 36.8,734.9 42.8,735.3 50.8,736.1 56.7,735.9 63.3,733.9 69.7,736.3 77.2,743.2 82.6,741.3 89.6,743.4 97.2,751.8 103.5,754.8 109.5,756.4 116.5,753.4 123,753 129.8,748.2 137,754.8 142.9,761.4 149.3,757.8 155.9,752.2 162.8,757.4 169.6,770.7 175.8,771.7 182.8,778.1 189.5,772.7 196.1,767.3 202.7,774.7 209,773.1 216,775.7 223,772.3 229,772.9 235.9,784.7 242.5,780.7 248.9,777.1 255.8,777.1 262.8,775.7 269.2,768.7 275.7,763.8 282.3,769.3 289.1,782.3 296,774.1 302.3,770.7 308.9,758.2 315.9,761.4 322.3,754.8 329,743.4 335.8,747.8 342.2,757.8 348.9,753.8 355.7,753.8 362.1,751.2 368.8,757.4 375.2,755.8 382,741.9 388.9,746.8 395.1,757.4 401.9,757.8 408.7,762.8 415,766.7 421.8,738.3 428.8,736.3 434.9,741.9 441.7,732.9 448.3,728.3 454.8,735.9 461.6,737.5 468.2,740.9 474.8,744.2 481.5,741.3 488.1,735.3 494.7,736.9 501.4,741.5 508,747.8 515,751.8 521.3,753.2 527.9,748.4 534.5,745.2 541.2,740.5 547.8,742.5 554.8,747.4 561.2,751.2 567.7,752.8 574.7,755.8 581.1,764.3 587,767.3 594.9,770.7 600.9,797 607.9,791.6 613.8,775.7 620.8,774.7 627.8,779.3 634.2,778.7 640.7,774.7 647.7,772.1 654.1,764.3 660.6,765.3 667.6,769.1 674.6,767.3 681.1,765.7 687.5,763.4 693.9,768.7 700.4,769.7 707,771.3 713.8,763.4 720.4,746.8 726.9,735.5 733.7,739.5 740.9,744.2 746.8,735.3 753.6,735.3 760.2,741.3 767.1,742.3 773.5,742.3 780.1,738.3 787,738.5 793.4,740.3 800,742.3 807,743.8 813.3,746.4 819.9,747.4 826.9,747.2 833.2,749.4 839.8,752.4 846.8,755.8 853.7,759.4 860.3,753.4 866.7,757.8 873,762.2 880,758.8 886.9,749.4 892.9,742.8 899.9,745.2 906.8,732.9 912.8,737.9 919.8,746.4 926.7,742.5 932.7,744.8 939.7,743.8 945.7,742.8 952.6,739.5 959.2,739.5 965.6,740.5 972.5,742.8 979.5,745.2 985.9,752.2 992.4,751.8 999.4,745.8 1005.4,746.8 1012.3,751.4 1019.3,763.4 1025.7,767.7 1032.9,775.1 1039.2,771.1 1045.8,767.3 1052.8,766.7 1059.1,762.2 1066.1,757.4 1072.1,743.8 1079,728.9 1086,737.3 1092.6,749.2 1098.9,750.4 1105.9,748.2 1112.9,751.2 1118.9,752.4 1125.8,752.4 1132.4,755.8 1138.8,757.4 1145.7,749.8 1151.7,749.8 1158.7,751.8 1166,746.4 1172.1,742.1 1178.6,745.5 1185.9,746.1 1192.4,763.3 1198.8,755 1205.2,746.8 1211.8,745.5 1218.7,744.3 1225.2,760.2 1232.1,765.4 1238.5,749.9 1244.9,734.8 1251.8,725.7 1258.7,713.6 1265.6,724.3 1272.1,732.6 1279,749.9 1285.6,756.4 1292,764.5 1298.9,758.8 1305.8,755 1311.8,753 1318.7,751.2 1325.6,748.5 1332.2,745.5 1338.6,743 1345,745.5 1351.5,746.8 1358.1,743 1365,740.4 1371.4,740.4 1378.3,739.9 1384.3,740.4 1391.2,741.2 1397.8,741.2 1404.7,742.1" fill="none" stroke="#2962ff" stroke-width="1.1" stroke-linejoin="round"/>
<rect x="1444" y="2" width="1" height="829" fill="#4f4f4f"/>
<rect x="5" y="803" width="1499" height="1" fill="#4f4f4f"/>
<rect x="12" y="66" width="560" height="18" fill="#fff" fill-opacity="0.55"/>
<rect x="12" y="674" width="113" height="18" fill="#fff" fill-opacity="0.55"/>
<rect x="12" y="716" width="155" height="18" fill="#fff" fill-opacity="0.55"/>
<g font-family="'Liberation Sans', Arial, sans-serif">
<text y="24.3" font-size="16" fill="#4c4c4c"><tspan x="35.6" textLength="46.2" lengthAdjust="spacingAndGlyphs">British</tspan><tspan x="86" textLength="44.2" lengthAdjust="spacingAndGlyphs">Pound</tspan><tspan x="135.4" textLength="5.8" lengthAdjust="spacingAndGlyphs">/</tspan><tspan x="147.6" textLength="66.6" lengthAdjust="spacingAndGlyphs">Japanese</tspan><tspan x="219.6" textLength="23.8" lengthAdjust="spacingAndGlyphs">Yen</tspan><tspan x="246.5">·</tspan><tspan x="255.9" textLength="17.9" lengthAdjust="spacingAndGlyphs">1D</tspan><tspan x="277.6">·</tspan><tspan x="285.1" textLength="38.9" lengthAdjust="spacingAndGlyphs">FXCM</tspan></text>
<circle cx="348" cy="18" r="9" fill="#e0f2ef"/>
<circle cx="348" cy="18" r="4.2" fill="#089981"/>
<text x="373" y="22.8" font-size="12.5" textLength="55.2" lengthAdjust="spacingAndGlyphs"><tspan fill="#555">O</tspan><tspan fill="#22603c">200.310</tspan></text>
<text x="434.6" y="22.8" font-size="12.5" textLength="54.9" lengthAdjust="spacingAndGlyphs"><tspan fill="#555">H</tspan><tspan fill="#22603c">200.534</tspan></text>
<text x="495.9" y="22.8" font-size="12.5" textLength="52.1" lengthAdjust="spacingAndGlyphs"><tspan fill="#555">L</tspan><tspan fill="#22603c">200.150</tspan></text>
<text x="555" y="22.8" font-size="12.5" textLength="53.8" lengthAdjust="spacingAndGlyphs"><tspan fill="#555">C</tspan><tspan fill="#22603c">200.416</tspan></text>
<text x="615.8" y="22.8" font-size="12.5" fill="#22603c" textLength="37.1" lengthAdjust="spacingAndGlyphs">+0.106</text>
<text x="659.4" y="22.8" font-size="12.5" fill="#22603c" textLength="47.2" lengthAdjust="spacingAndGlyphs">(+0.05%)</text>
<circle cx="26.2" cy="14.8" r="5.6" fill="#eef0f6"/>
<circle cx="26.3" cy="14.5" r="2.8" fill="#f23645"/>
<circle cx="20.1" cy="20.9" r="7.1" fill="#fff"/>
<clipPath id="fl"><circle cx="20.1" cy="20.9" r="6.1"/></clipPath>
<g clip-path="url(#fl)"><rect x="13" y="14" width="14" height="14" fill="#1d4aa5"/><path d="M13,14 L27,28 M27,14 L13,28" stroke="#fff" stroke-width="2.2"/><path d="M13,14 L27,28 M27,14 L13,28" stroke="#e8485a" stroke-width="0.8"/><rect x="13" y="19.4" width="14" height="3" fill="#fff"/><rect x="18.6" y="14" width="3" height="14" fill="#fff"/><rect x="13" y="20" width="14" height="1.8" fill="#e8485a"/><rect x="19.2" y="14" width="1.8" height="14" fill="#e8485a"/></g>
<rect x="13.8" y="34.7" width="59.5" height="22.6" rx="3.5" fill="#fff" stroke="#f23645" stroke-width="1"/>
<text x="21.2" y="51" font-size="13.5" fill="#f23645" textLength="41" lengthAdjust="spacingAndGlyphs">200.41</text>
<text x="63" y="46" font-size="9.5" fill="#f23645">6</text>
<text x="81.6" y="51" font-size="13" fill="#131722" textLength="15.3" lengthAdjust="spacingAndGlyphs">0.7</text>
<rect x="105.7" y="34.7" width="59.5" height="22.6" rx="3.5" fill="#fff" stroke="#2962ff" stroke-width="1"/>
<text x="113.2" y="51" font-size="13.5" fill="#2962ff" textLength="41" lengthAdjust="spacingAndGlyphs">200.42</text>
<text x="155" y="46" font-size="9.5" fill="#2962ff">3</text>
<text x="13.9" y="79.2" font-size="12.5" fill="#555" textLength="383" lengthAdjust="spacingAndGlyphs">MA Ribbon SMA close 20 SMA close 50 SMA close 100 SMA close 200</text>
<text x="405.9" y="79.2" font-size="12.5" fill="#f23645" textLength="45.4" lengthAdjust="spacingAndGlyphs">196.410</text>
<text x="458" y="79.2" font-size="12.5" fill="#2962ff" textLength="44" lengthAdjust="spacingAndGlyphs">193.964</text>
<text x="509" y="79.2" font-size="12.5" fill="#131722">∅</text>
<text x="523.8" y="79.2" font-size="12.5" fill="#131722" textLength="43.8" lengthAdjust="spacingAndGlyphs">187.343</text>
<rect x="14.8" y="89.3" width="27.2" height="18.6" rx="3" fill="#fff" stroke="#e0e3eb" stroke-width="1"/>
<path d="M24.5,100.5 L28.5,96.5 L32.5,100.5" fill="none" stroke="#131722" stroke-width="1.6"/>
<text x="13.9" y="688" font-size="12.5" fill="#555" textLength="67.5" lengthAdjust="spacingAndGlyphs">ATR 14 RMA</text>
<text x="90" y="688" font-size="12.5" fill="#b2283a" textLength="31.5" lengthAdjust="spacingAndGlyphs">1.409</text>
<text x="13.9" y="730.5" font-size="12.5" fill="#555" textLength="101.5" lengthAdjust="spacingAndGlyphs">CCI 20 hlc3 SMA 5</text>
<text x="124" y="730.5" font-size="12.5" fill="#2962ff" textLength="38.5" lengthAdjust="spacingAndGlyphs">120.94</text>
<text x="1452.6" y="46.7" font-size="12.5" fill="#555" textLength="41.4" lengthAdjust="spacingAndGlyphs">202.000</text>
<text x="1452.6" y="92.7" font-size="12.5" fill="#555" textLength="41.4" lengthAdjust="spacingAndGlyphs">200.000</text>
<text x="1452.6" y="138.7" font-size="12.5" fill="#555" textLength="41.4" lengthAdjust="spacingAndGlyphs">198.000</text>
<text x="1452.6" y="230.7" font-size="12.5" fill="#555" textLength="41.4" lengthAdjust="spacingAndGlyphs">194.000</text>
<text x="1452.6" y="275.7" font-size="12.5" fill="#555" textLength="41.4" lengthAdjust="spacingAndGlyphs">192.000</text>
<text x="1452.6" y="321.7" font-size="12.5" fill="#555" textLength="41.4" lengthAdjust="spacingAndGlyphs">190.000</text>
<text x="1452.6" y="367.7" font-size="12.5" fill="#555" textLength="41.4" lengthAdjust="spacingAndGlyphs">188.000</text>
<text x="1452.6" y="505.7" font-size="12.5" fill="#555" textLength="41.4" lengthAdjust="spacingAndGlyphs">182.000</text>
<text x="1452.6" y="550.7" font-size="12.5" fill="#555" textLength="41.4" lengthAdjust="spacingAndGlyphs">180.000</text>
<text x="1452.6" y="596.7" font-size="12.5" fill="#555" textLength="41.4" lengthAdjust="spacingAndGlyphs">178.000</text>
<text x="1452.6" y="642.7" font-size="12.5" fill="#555" textLength="41.4" lengthAdjust="spacingAndGlyphs">176.000</text>
<path d="M1444.5,174.05 h53.3 a2,2 0 0 1 2,2 v12.5 a2,2 0 0 1 -2,2 h-53.3 z" fill="#000"/>
<text x="1452.3" y="186.9" font-size="12.5" fill="#fff" font-weight="bold" textLength="41.6" lengthAdjust="spacingAndGlyphs">195.883</text>
<path d="M1444.5,228.15 h53.3 a2,2 0 0 1 2,2 v12.5 a2,2 0 0 1 -2,2 h-53.3 z" fill="#000"/>
<text x="1452.3" y="241" font-size="12.5" fill="#fff" font-weight="bold" textLength="41.6" lengthAdjust="spacingAndGlyphs">193.546</text>
<path d="M1444.5,336.15 h53.3 a2,2 0 0 1 2,2 v12.5 a2,2 0 0 1 -2,2 h-53.3 z" fill="#000"/>
<text x="1452.3" y="349" font-size="12.5" fill="#fff" font-weight="bold" textLength="41.6" lengthAdjust="spacingAndGlyphs">188.807</text>
<path d="M1444.5,384.15 h53.3 a2,2 0 0 1 2,2 v12.5 a2,2 0 0 1 -2,2 h-53.3 z" fill="#000"/>
<text x="1452.3" y="397" font-size="12.5" fill="#fff" font-weight="bold" textLength="41.6" lengthAdjust="spacingAndGlyphs">186.718</text>
<path d="M1444.5,401.45 h53.3 a2,2 0 0 1 2,2 v12.5 a2,2 0 0 1 -2,2 h-53.3 z" fill="#000"/>
<text x="1452.3" y="414.3" font-size="12.5" fill="#fff" font-weight="bold" textLength="41.6" lengthAdjust="spacingAndGlyphs">186.346</text>
<path d="M1444.5,445.95 h53.3 a2,2 0 0 1 2,2 v12.5 a2,2 0 0 1 -2,2 h-53.3 z" fill="#000"/>
<text x="1452.3" y="458.8" font-size="12.5" fill="#fff" font-weight="bold" textLength="41.6" lengthAdjust="spacingAndGlyphs">184.012</text>
<path d="M1444.5,525.15 h53.3 a2,2 0 0 1 2,2 v12.5 a2,2 0 0 1 -2,2 h-53.3 z" fill="#000"/>
<text x="1452.3" y="538" font-size="12.5" fill="#fff" font-weight="bold" textLength="41.6" lengthAdjust="spacingAndGlyphs">180.556</text>
<path d="M1444.5,572.05 h53.3 a2,2 0 0 1 2,2 v12.5 a2,2 0 0 1 -2,2 h-53.3 z" fill="#000"/>
<text x="1452.3" y="584.9" font-size="12.5" fill="#fff" font-weight="bold" textLength="41.6" lengthAdjust="spacingAndGlyphs">178.503</text>
<rect x="1448.9" y="6.7" width="50.5" height="24.7" rx="4" fill="#fff" stroke="#e0e3eb" stroke-width="1"/>
<text x="1452.2" y="22.8" font-size="12.5" fill="#131722" textLength="19" lengthAdjust="spacingAndGlyphs">JPY</text>
<path d="M1490.3,18.4 L1492.6,20.6 L1494.9,18.4" fill="none" stroke="#131722" stroke-width="1.3"/>
<text x="1452.3" y="681.6" font-size="12.5" fill="#555" textLength="29.2" lengthAdjust="spacingAndGlyphs">2.000</text>
<text x="1452.3" y="729.6" font-size="12.5" fill="#555" textLength="35.5" lengthAdjust="spacingAndGlyphs">250.00</text>
<text x="1452.3" y="763.2" font-size="12.5" fill="#555" textLength="23.5" lengthAdjust="spacingAndGlyphs">0.00</text>
<text x="1453.7" y="794.6" font-size="12.5" fill="#555" textLength="40" lengthAdjust="spacingAndGlyphs">−250.00</text>
<text x="143.3" y="821" font-size="12.5" fill="#555" text-anchor="middle">Sep</text>
<text x="282.7" y="821" font-size="12.5" fill="#555" text-anchor="middle">Oct</text>
<text x="428.8" y="821" font-size="12.5" fill="#555" text-anchor="middle">Nov</text>
<text x="575.2" y="821" font-size="12.5" fill="#555" text-anchor="middle">Dec</text>
<text x="707.7" y="821" font-size="12.5" fill="#333" font-weight="bold" text-anchor="middle">2024</text>
<text x="854" y="821" font-size="12.5" fill="#555" text-anchor="middle">Feb</text>
<text x="993.2" y="821" font-size="12.5" fill="#555" text-anchor="middle">Mar</text>
<text x="1132.7" y="821" font-size="12.5" fill="#555" text-anchor="middle">Apr</text>
<text x="1279.2" y="821" font-size="12.5" fill="#555" text-anchor="middle">May</text>
<text x="1431.5" y="821" font-size="12.5" fill="#555" text-anchor="middle">Jun</text>
</g>
<g fill="#131722"><path d="M17,774 H28.7 V789 H23 V779.6 H17 Z"/><circle cx="34" cy="777.3" r="2.6"/><path d="M39.6,774 H46.7 L40.4,789 H33.4 Z"/></g>
<filter id="ws" x="-5%" y="-15%" width="110%" height="130%" color-interpolation-filters="sRGB"><feGaussianBlur in="SourceAlpha" stdDeviation="0.9" result="b"/><feOffset in="b" dx="-2.2" dy="2.2" result="o"/><feComposite in="o" in2="SourceAlpha" operator="out" result="sh"/><feColorMatrix in="sh" type="matrix" values="0 0 0 0 0.25  0 0 0 0 0.25  0 0 0 0 0.25  0 0 0 0.75 0" result="sh2"/><feColorMatrix in="SourceGraphic" type="matrix" values="1 0 0 0 0  0 1 0 0 0  0 0 1 0 0  0 0 0 0.7 0" result="g"/><feMerge><feMergeNode in="sh2"/><feMergeNode in="g"/></feMerge></filter>
<filter id="wz" x="-20%" y="-20%" width="150%" height="150%" color-interpolation-filters="sRGB"><feOffset in="SourceAlpha" dx="1.6" dy="1.8" result="o"/><feComposite in="o" in2="SourceAlpha" operator="out" result="sh"/><feColorMatrix in="sh" type="matrix" values="0 0 0 0 0.45  0 0 0 0 0.5  0 0 0 0 0.62  0 0 0 0.85 0" result="sh2"/><feMerge><feMergeNode in="sh2"/><feMergeNode in="SourceGraphic"/></feMerge></filter>
<g font-family="'Liberation Sans', 'Noto Sans CJK SC', sans-serif" font-weight="bold" font-style="italic">
<text x="1258" y="791" font-size="60" fill="#ffffff" filter="url(#ws)" textLength="246" lengthAdjust="spacingAndGlyphs">海马财经</text>
<text x="0" y="0" transform="translate(1270.8,826.5) scale(1.28,1)" font-size="30" fill="#8aa8f0" filter="url(#wz)">z</text>
<text x="0" y="0" transform="translate(1296.5,826.5) scale(1.28,1)" font-size="30" fill="#8aa8f0" filter="url(#wz)">z</text>
<text x="0" y="0" transform="translate(1325.2,826.5) scale(1.28,1)" font-size="30" fill="#8aa8f0" filter="url(#wz)">r</text>
<text x="0" y="0" transform="translate(1349.8,826.5) scale(1.28,1)" font-size="30" fill="#8aa8f0" filter="url(#wz)">t</text>
<text x="0" y="0" transform="translate(1369.5,826.5) scale(1.28,1)" font-size="30" fill="#8aa8f0" filter="url(#wz)">0</text>
<text x="0" y="0" transform="translate(1403,826.5) scale(1.28,1)" font-size="30" fill="#8aa8f0" filter="url(#wz)">1</text>
<text x="0" y="0" transform="translate(1427.7,826.5) scale(1.28,1)" font-size="30" fill="#8aa8f0" filter="url(#wz)">.</text>
<text x="0" y="0" transform="translate(1448.2,826.5) scale(1.28,1)" font-size="30" fill="#8aa8f0" filter="url(#wz)">c</text>
<text x="0" y="0" transform="translate(1473.6,826.5) scale(1.28,1)" font-size="30" fill="#8aa8f0" filter="url(#wz)">n</text>
</g>
<path d="M1467.6,817.4 L1471,811.6 L1478,811.6 L1481.4,817.4 L1478,823.2 L1471,823.2 Z" fill="none" stroke="#131722" stroke-width="1.2"/>
<circle cx="1474.5" cy="817.4" r="2" fill="none" stroke="#131722" stroke-width="1.2"/></svg>
</body></html>
